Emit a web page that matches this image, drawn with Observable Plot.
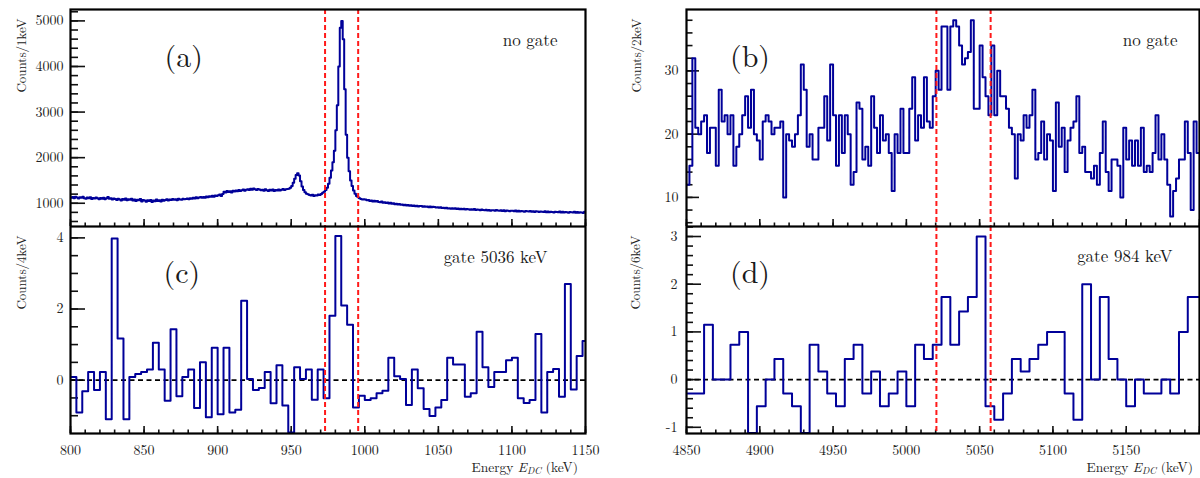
<!DOCTYPE html>
<html><head><meta charset="utf-8">
<script src="https://cdn.jsdelivr.net/npm/d3@7"></script>
<script src="https://cdn.jsdelivr.net/npm/@observablehq/plot@0.6"></script>
<style>
body{margin:0;background:#fff;}
#wrap{position:relative;width:1200px;height:478px;overflow:hidden;}
.panel{position:absolute;}
.xtitle{position:absolute;font-size:13.5px;color:#222;white-space:nowrap;line-height:15px;padding-bottom:2px;}
.xtitle sub{font-size:0.72em;vertical-align:-0.22em;line-height:0;font-style:italic;}
</style></head><body><div id="wrap"></div>
<script>
// ---- data ----
// (a) no gate, 1 keV bins from 800 keV
const countsA = [
1120,1135,1110,1142,1128,1105,1131,1118,1140,1112,
1098,1125,1108,1130,1095,1117,1102,1128,1110,1090,
1115,1100,1122,1086,1108,1135,1097,1112,1080,1104,
1092,1070,1101,1085,1060,1094,1078,1102,1066,1088,
1075,1098,1062,1085,1050,1079,1068,1092,1040,1071,
1058,1035,1066,1048,1072,1030,1061,1045,1080,1052,
1064,1041,1078,1055,1070,1088,1060,1083,1072,1095,
1078,1090,1068,1097,1085,1076,1100,1088,1093,1105,
1090,1112,1098,1120,1105,1131,1110,1126,1138,1118,
1135,1122,1148,1130,1155,1140,1162,1145,1170,1158,
1175,1190,1160,1205,1250,1235,1270,1245,1262,1238,
1275,1258,1280,1262,1291,1270,1285,1300,1276,1295,
1305,1288,1318,1296,1322,1305,1290,1315,1300,1283,
1298,1276,1305,1287,1270,1294,1280,1300,1268,1290,
1282,1302,1278,1295,1310,1288,1306,1312,
1320,1340,1380,1450,1540,1620,1660,1610,1480,1370,1290,1240,1210,
1195,1180,1170,1185,1160,1178,1168,1190,1182,
1205,1230,
1250,1290,1340,1430,1560,1720,1900,2150,2600,3150,
4000,4850,5000,4600,3500,2500,2000,1700,1500,1380,
1280,1210,1160,1130,1110,1095,1080,1090,
1085,1068,1074,1052,1060,1041,1057,1036,1049,1030,
1022,1038,1012,1020,1003,1016,995,1009,987,998,
980,991,972,986,965,974,958,969,950,962,
945,957,940,951,933,947,929,942,938,925,
936,921,930,915,927,910,923,918,905,914,
900,912,895,903,888,899,884,893,880,890,
877,888,872,884,869,880,866,878,863,874,
870,859,868,855,872,851,864,857,849,861,
852,846,858,840,853,838,849,845,834,851,
842,836,848,830,845,827,840,836,824,838,
833,826,840,821,835,818,830,825,815,829,
824,818,832,812,826,809,822,817,806,820,
816,809,824,804,818,801,814,810,799,813,
810,802,817,797,811,795,808,803,792,806,
804,797,811,791,806,789,802,798,787,815
];
// (b) no gate, 2 keV bins from 4850 keV
const countsB = [
12,15,32,21,20,22,23,17,21,21,
15,27,22,23,20,23,15,18,20,23,
26,21,27,20,19,16,22,23,22,20,
21,21,22,10,20,19,18,20,23,31,
27,18,20,16,16,21,21,26,19,31,
23,15,23,17,23,20,12,14,25,24,
16,18,15,26,21,17,23,19,20,17,
11,20,17,24,17,17,24,29,19,23,
21,29,22,21,26,30,27,37,37,27,
37,38,37,34,31,32,33,38,24,24,
34,29,26,23,34,23,30,26,26,24,
21,20,13,20,19,23,21,23,27,16,
17,22,16,20,19,11,25,18,21,14,
19,21,22,26,17,18,14,14,13,15,
12,17,22,14,11,16,16,15,10,21,
16,19,15,19,15,21,14,15,14,17,
23,16,20,16,12,7,11,13,16,16,
22,17,8,22,17
];
// (c) gate 5036 keV, 4 keV bins from 800 keV
const countsC = [
0.09,-0.91,-0.31,0.23,-0.28,0.23,-1.1,3.98,1.17,-1.1,
0.09,0.17,0.23,0.3,1.05,0.3,-0.58,1.43,-0.45,0.09,
0.3,-0.78,0.5,-1.04,0.91,-0.96,0.91,-0.91,-0.83,2.23,
0.03,-0.28,-0.22,0.23,-0.65,0.42,-0.71,-1.47,0.36,0.03,
0.3,-0.55,0.3,-0.51,1.81,4.05,2.1,1.56,-0.77,-0.44,
-0.56,-0.51,-0.37,-0.3,0.63,0.11,0.03,-0.7,0.3,-0.23,
-0.81,-1.01,-0.77,-0.56,0.63,0.44,0.44,-0.47,-0.37,1.36,
0.36,-0.19,0.23,0.23,0.56,0.63,-0.51,-0.64,-0.56,1.3,
-0.91,0.23,0.31,-0.47,2.7,-0.26,0.68,1.1
];
// (d) gate 984 keV, 6 keV bins from 4850 keV
const countsD = [
-0.29,-0.29,1.15,0,0,0.73,1.0,-1.12,-0.56,0,
0.43,-0.29,-0.56,-1.12,0.73,0.17,-0.29,-0.56,0.43,0.73,
-0.29,0.17,-0.56,-0.29,0.17,-0.56,0.73,0.43,0.73,1.73,
0.73,1.43,1.73,3.0,-0.56,-0.84,-0.29,0.43,0.17,0.43,
0.73,1.0,1.0,-0.29,-0.84,2.0,0,1.73,0.43,0,
-0.56,0,-0.29,-0.29,0,-0.29,1.0,1.73,1.73
];
const gateLinesLow = [973, 995.5];
const gateLinesHigh = [5020.5, 5057.5];
const ticksYA = [1000, 2000, 3000, 4000, 5000];
const ticksYB = [10, 20, 30];
const ticksYC = [0, 2, 4];
const ticksYD = [-1, 0, 1, 2, 3];
const ticksXLow = [800, 850, 900, 950, 1000, 1050, 1100, 1150];
const ticksXHigh = [4850, 4900, 4950, 5000, 5050, 5100, 5150];
const yTitles = ["Counts/1keV", "Counts/2keV", "Counts/4keV", "Counts/6keV"];
const letters = ["(a)", "(b)", "(c)", "(d)"];
const notes = ["no gate", "no gate", "gate 5036 keV", "gate 984 keV"];
const xTitleWord = "Energy";

const FONT = '"Latin Modern Roman", "Liberation Serif", serif';

function hist(vals, x0, w) {
  const pts = vals.map((v, i) => ({x: x0 + i * w, y: v}));
  pts.push({x: x0 + vals.length * w, y: vals[vals.length - 1]});
  return pts;
}

function panel(c) {
  const m = c.margin;
  const pw = c.width - m.left - m.right, ph = c.height - m.top - m.bottom;
  const [x0, x1] = c.xDomain, [y0, y1] = c.yDomain;
  const kx = (x1 - x0) / pw, ky = (y1 - y0) / ph;
  const inY = v => v > y0 + 1e-9 && v < y1 - 1e-9;
  const inX = v => v >= x0 - 1e-9 && v <= x1 + 1e-9;
  const yMinor = c.yMinor.filter(inY), xMinor = c.xMinor.filter(inX), xMajor = c.xMajor.filter(inX);
  const marks = [
    Plot.ruleY(yMinor, {x1: x0, x2: x0 + c.yMinorLen * kx, stroke: "#111", strokeWidth: 1.6}),
    Plot.ruleY(c.yMajor.filter(inY), {x1: x0, x2: x0 + c.yMajorLen * kx, stroke: "#111", strokeWidth: 1.6}),
    Plot.ruleX(xMinor, {y1: y0, y2: y0 + 3.5 * ky, stroke: "#111", strokeWidth: 1.6}),
    Plot.ruleX(xMajor, {y1: y0, y2: y0 + 7 * ky, stroke: "#111", strokeWidth: 1.6})
  ];
  if (c.zero) marks.push(Plot.ruleY([0], {stroke: "#000", strokeWidth: 1.8, strokeDasharray: "5,3.5"}));
  marks.push(Plot.line(hist(c.values, c.start, c.binW), {x: "x", y: "y", curve: "step-after", stroke: "#000099", strokeWidth: 2, clip: true}));
  marks.push(Plot.ruleX(c.gates, {stroke: "#ff1a1a", strokeWidth: 2, strokeDasharray: "5,3"}));
  marks.push(Plot.frame({stroke: "#000", strokeWidth: 2.2}));
  marks.push(Plot.axisY(c.yMajor, {label: null, tickSize: 0, tickPadding: c.yPad, fontSize: 14, tickFormat: d => String(d)}));
  if (c.xLabels) marks.push(Plot.axisX(c.xLabels, {label: null, tickSize: 0, tickPadding: 12, fontSize: 14, tickFormat: d => String(d)}));
  marks.push(Plot.text([c.letter], {text: d => d, frameAnchor: "top-left", dx: c.letterDx, dy: c.letterDy, fontSize: 30, fill: "#1a1a1a"}));
  marks.push(Plot.text([c.note], {text: d => d, frameAnchor: "top-right", textAnchor: "end", dx: c.noteDx, dy: c.noteDy, fontSize: 17, fill: "#1a1a1a"}));
  marks.push(Plot.text([c.yTitle], {text: d => d, frameAnchor: "top-left", rotate: -90, textAnchor: "end", dx: c.yTitleDx, dy: 9, fontSize: 13, fill: "#222"}));
  const svg = Plot.plot({
    width: c.width, height: c.height,
    marginLeft: m.left, marginRight: m.right, marginTop: m.top, marginBottom: m.bottom,
    x: {domain: c.xDomain, axis: null},
    y: {domain: c.yDomain, axis: null},
    style: {color: "#222", background: "transparent"},
    marks
  });
  svg.style.fontFamily = FONT;
  svg.setAttribute("font-family", FONT);
  d3.select(svg).selectAll("g[font-family]").attr("font-family", null);
  d3.select(svg).selectAll("text").style("font-family", FONT);
  const div = document.createElement("div");
  div.className = "panel";
  div.style.left = c.left + "px";
  div.style.top = c.top + "px";
  div.appendChild(svg);
  document.getElementById("wrap").appendChild(div);
}

const lowMinorX = d3.range(800, 1151, 10);
const highMinorX = d3.range(4850, 5201, 10);

panel({left: 0, top: 0, width: 600, height: 226, margin: {top: 9, right: 15, bottom: 0, left: 70},
  values: countsA, start: 800, binW: 1, xDomain: [800, 1150], yDomain: [490, 5250],
  yMajor: ticksYA, yMinor: d3.range(600, 5250, 200), yMajorLen: 15, yMinorLen: 8, yPad: 7,
  xMajor: d3.range(800, 1151, 50), xMinor: lowMinorX, gates: gateLinesLow,
  letter: letters[0], letterDx: 94, letterDy: 36, note: notes[0], noteDx: -28, noteDy: 24, yTitle: yTitles[0], yTitleDx: -54});

panel({left: 0, top: 226, width: 600, height: 252, margin: {top: 0, right: 15, bottom: 45, left: 70},
  values: countsC, start: 800, binW: 4, xDomain: [800, 1150], yDomain: [-1.5, 4.32],
  yMajor: ticksYC, yMinor: d3.range(-3, 9).map(i => i * 0.5), yMajorLen: 15, yMinorLen: 8, yPad: 7,
  xMajor: d3.range(800, 1151, 50), xMinor: lowMinorX, xLabels: ticksXLow, gates: gateLinesLow, zero: true,
  letter: letters[2], letterDx: 93, letterDy: 35, note: notes[2], noteDx: -38, noteDy: 24, yTitle: yTitles[2], yTitleDx: -54});

panel({left: 600, top: 0, width: 600, height: 226, margin: {top: 9, right: 1, bottom: 0, left: 86},
  values: countsB, start: 4850, binW: 2, xDomain: [4850, 5200], yDomain: [5.4, 39.7],
  yMajor: ticksYB, yMinor: d3.range(6, 40, 2), yMajorLen: 13, yMinorLen: 6.5, yPad: 8,
  xMajor: d3.range(4850, 5201, 50), xMinor: highMinorX, gates: gateLinesHigh,
  letter: letters[1], letterDx: 43.5, letterDy: 36, note: notes[1], noteDx: -22, noteDy: 24, yTitle: yTitles[1], yTitleDx: -55});

panel({left: 600, top: 226, width: 600, height: 252, margin: {top: 0, right: 1, bottom: 45, left: 86},
  values: countsD, start: 4850, binW: 6, xDomain: [4850, 5200], yDomain: [-1.13, 3.21],
  yMajor: ticksYD, yMinor: d3.range(-5, 17).map(i => +(i * 0.2).toFixed(1)), yMajorLen: 15, yMinorLen: 7, yPad: 9,
  xMajor: d3.range(4850, 5201, 50), xMinor: highMinorX, xLabels: ticksXHigh, gates: gateLinesHigh, zero: true,
  letter: letters[3], letterDx: 43.5, letterDy: 35, note: notes[3], noteDx: -27, noteDy: 23, yTitle: yTitles[3], yTitleDx: -56});

// x-axis titles
[622, 7].forEach(right => {
  const t = document.createElement("div");
  t.className = "xtitle";
  t.style.fontFamily = FONT;
  t.style.right = right + "px";
  t.style.top = "459px";
  t.innerHTML = xTitleWord + " <i>E</i><sub>DC</sub> (keV)";
  document.getElementById("wrap").appendChild(t);
});
</script></body></html>
